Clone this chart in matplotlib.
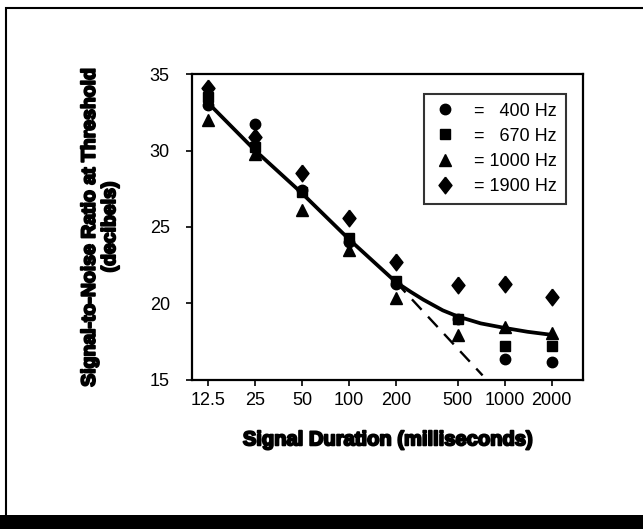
import numpy as np
import matplotlib
matplotlib.use("Agg")
import matplotlib.pyplot as plt
import matplotlib.patheffects as pe
from matplotlib.patches import Rectangle

plt.rcParams['font.family'] = ['Liberation Sans', 'DejaVu Sans']

# ------------------------------------------------------------
# Data
# ------------------------------------------------------------
durations = [12.5, 25, 50, 100, 200, 500, 1000, 2000]
hz400 = [33.0, 31.7, 27.4, 24.0, 21.3, 19.0, 16.4, 16.2]
hz670 = [33.5, 30.2, 27.3, 24.3, 21.5, 19.0, 17.2, 17.2]
hz1000 = [32.0, 29.8, 26.1, 23.5, 20.35, 17.95, 18.45, 18.05]
hz1900 = [34.1, 30.9, 28.55, 25.6, 22.7, 21.2, 21.25, 20.45]

fit_ms = [12.5, 25, 50, 100, 200, 250, 300, 400, 500, 700, 1000, 1400, 2000]
fit_db = [33.1, 30.0, 27.2, 24.2, 21.4, 20.75, 20.25, 19.55, 19.15, 18.7, 18.4, 18.15, 17.95]

dash_ms = [200, 720]
dash_db = [21.4, 15.3]

tick_ms = [12.5, 25, 50, 100, 200, 500, 1000, 2000]
tick_labels = ['12.5', '25', '50', '100', '200', '500', '1000', '2000']

# tall diamond like the scanned marker
tall_diamond = [(0, 1), (0.78, 0), (0, -1), (-0.78, 0), (0, 1)]

series = [
    (hz400, 'o', 7.5, '=   400 Hz'),
    (hz670, 's', 7, '=   670 Hz'),
    (hz1000, '^', 8, '= 1000 Hz'),
    (hz1900, tall_diamond, 12, '= 1900 Hz'),
]

# ------------------------------------------------------------
# Figure
# ------------------------------------------------------------
fig = plt.figure(figsize=(6.43, 5.29), dpi=100)
ax = fig.add_axes([0.2986, 0.2817, 0.6081, 0.5784])

for vals, m, ms, lab in series:
    ax.plot(durations, vals, linestyle='none', marker=m, markersize=ms,
            color='black', label=lab)

ax.plot(fit_ms, fit_db, color='black', linewidth=2.7, solid_capstyle='round',
        solid_joinstyle='round')
ax.plot(dash_ms, dash_db, color='black', linewidth=1.7, dashes=(6, 4))

ax.set_xscale('log')
ax.set_xlim(9.83, 3176)
ax.set_ylim(15, 35)
ax.set_xticks(tick_ms)
ax.set_xticklabels(tick_labels)
ax.minorticks_off()
ax.set_yticks([15, 20, 25, 30, 35])

for s in ax.spines.values():
    s.set_linewidth(1.6)

ax.tick_params(axis='both', which='major', direction='out', length=4,
               width=1.2, labelsize=13, pad=5)
ax.tick_params(axis='y', pad=12)

bold_fx = [pe.withStroke(linewidth=1.4, foreground='black')]
ax.set_xlabel('Signal Duration (milliseconds)', fontsize=14.5,
              fontweight='bold', labelpad=15, path_effects=bold_fx)
ax.set_ylabel('Signal-to-Noise Ratio at Threshold\n(decibels)', fontsize=14,
              fontweight='bold', labelpad=22, linespacing=1.25,
              path_effects=bold_fx)

leg = ax.legend(loc='upper right', bbox_to_anchor=(0.957, 0.936),
                borderaxespad=0, fontsize=13, frameon=True, fancybox=False,
                handlelength=1.4, handletextpad=0.9, labelspacing=0.45,
                borderpad=0.5, markerscale=1.0)
leg.get_frame().set_edgecolor('black')
leg.get_frame().set_linewidth(1.5)

# outer frame of the scanned figure
fig.patches.append(Rectangle((0.009, 0.0), 1.2, 0.985, transform=fig.transFigure,
                             fill=False, edgecolor='black', linewidth=1.5))
fig.patches.append(Rectangle((0.0, 0.0), 1.0, 0.026, transform=fig.transFigure,
                             facecolor='black', edgecolor='none'))

fig.savefig('out.png', dpi=100)
